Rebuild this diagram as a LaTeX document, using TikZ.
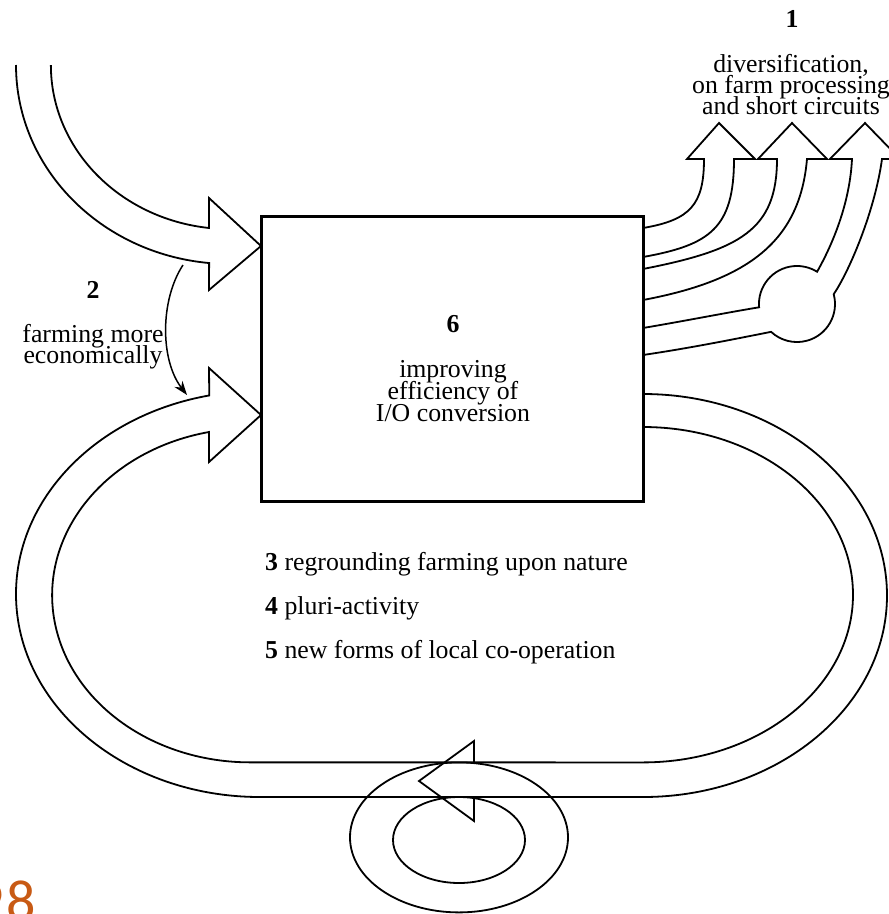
\documentclass[tikz,border=0pt]{standalone}
\usepackage{fontspec}
\setmainfont{Liberation Serif}
\newfontfamily\pagenumfont{Carlito}
\usetikzlibrary{arrows.meta}
\definecolor{pageorange}{RGB}{200,90,20}
\begin{document}
\lineskiplimit=-50pt\relax
\lineskip=0pt\relax
\begin{tikzpicture}[x=1pt,y=1pt,
  flow/.style={line width=1.8pt, line join=miter},
  lbl/.style={inner sep=0pt, font=\fontsize{25.8}{21}\selectfont},
  numlbl/.style={inner sep=0pt, font=\fontsize{25.8}{21}\selectfont\bfseries},
  ]
\useasboundingbox (0,0) rectangle (889,-914);
\clip (0,0) rectangle (889,-914);

% central box
\node[draw, line width=3pt, minimum width=382pt, minimum height=285pt, inner sep=0pt] (box) at (452,-358.5) {};

% top-left incoming arrow
\draw[flow] (16,-65) arc[start angle=180, end angle=264.4, x radius=214, y radius=199]
  -- (209,-290) -- (261,-246) -- (209,-198) -- (209,-228)
  arc[start angle=263.3, end angle=180, x radius=179, y radius=164];

% big loop
\draw[flow] (643,-394) arc[start angle=90, end angle=-90, x radius=244, y radius=201.5]
  -- (260,-797) arc[start angle=270, end angle=102, x radius=244, y radius=203]
  -- (209,-368) -- (261,-415) -- (209,-462) -- (209,-432)
  arc[start angle=102, end angle=270, x radius=198, y radius=167]
  -- (643,-762.4) arc[start angle=-90, end angle=90, x radius=210, y radius=167.7];

% small loop at the bottom
\draw[flow] (474,-762.4) -- (474,-741) -- (419,-781) -- (474,-821) -- (474,-797);
\draw[flow] (459,-837.4) ellipse[x radius=109, y radius=75];
\draw[flow] (459,-840) ellipse[x radius=66, y radius=43];

% outgoing arrows on the right
\draw[flow] (643,-228) .. controls (690,-220) and (704,-205) .. (704,-159)
  -- (687,-159) -- (719,-123) -- (755,-159) -- (734,-159)
  .. controls (734,-228) and (710,-245) .. (643,-257);
\draw[flow] (643,-269) .. controls (740,-250) and (777,-230) .. (777,-159)
  -- (758,-159) -- (792,-123) -- (827,-159) -- (807,-159)
  .. controls (800,-240) and (750,-280) .. (643,-300);
\draw[flow] (643,-328) .. controls (690,-320) and (730,-312) .. (759.1,-307.3)
  arc[start angle=185, end angle=58, radius=38]
  .. controls (835,-240) and (850,-200) .. (852,-159)
  -- (830,-159) -- (865,-123) -- (900,-159) -- (882,-159)
  .. controls (875,-210) and (850,-270) .. (833.7,-294.2)
  arc[start angle=15, end angle=-133, radius=38]
  .. controls (730,-340) and (690,-348) .. (643,-355);

% curved arrow "farming more economically"
\coordinate (c2a) at (183,-265);
\coordinate (c2b) at (187,-395);
\draw[line width=1.5pt, -{Stealth[length=14pt,width=10pt]}] (c2a) .. controls (160,-300) and (160,-360) .. (c2b);

% labels
\node[numlbl] (n1) at (792,-19) {1};
\node[lbl, align=center, anchor=base] (t1) at (791,-114) {diversification,\\on farm processing\\and short circuits};
\node[numlbl] (n2) at (93,-290) {2};
\node[lbl, align=center, anchor=base] (t2) at (93,-363) {farming more\\economically};
\node[numlbl] (n6) at (453,-324) {6};
\node[lbl, font=\fontsize{25.8}{22}\selectfont, align=center, anchor=base] (t6) at (453,-421) {improving\\efficiency of\\I/O conversion};
\node[lbl, anchor=base west] (t3) at (265,-570) {\textbf{3} regrounding farming upon nature};
\node[lbl, anchor=base west] (t4) at (265,-614) {\textbf{4} pluri-activity};
\node[lbl, anchor=base west] (t5) at (265,-658) {\textbf{5} new forms of local co-operation};

\node[inner sep=0pt, anchor=base west, text=pageorange, font=\pagenumfont\fontsize{58}{58}\selectfont] (pg) at (-25.4,-920) {9\kern2pt 8};
\end{tikzpicture}
\end{document}
